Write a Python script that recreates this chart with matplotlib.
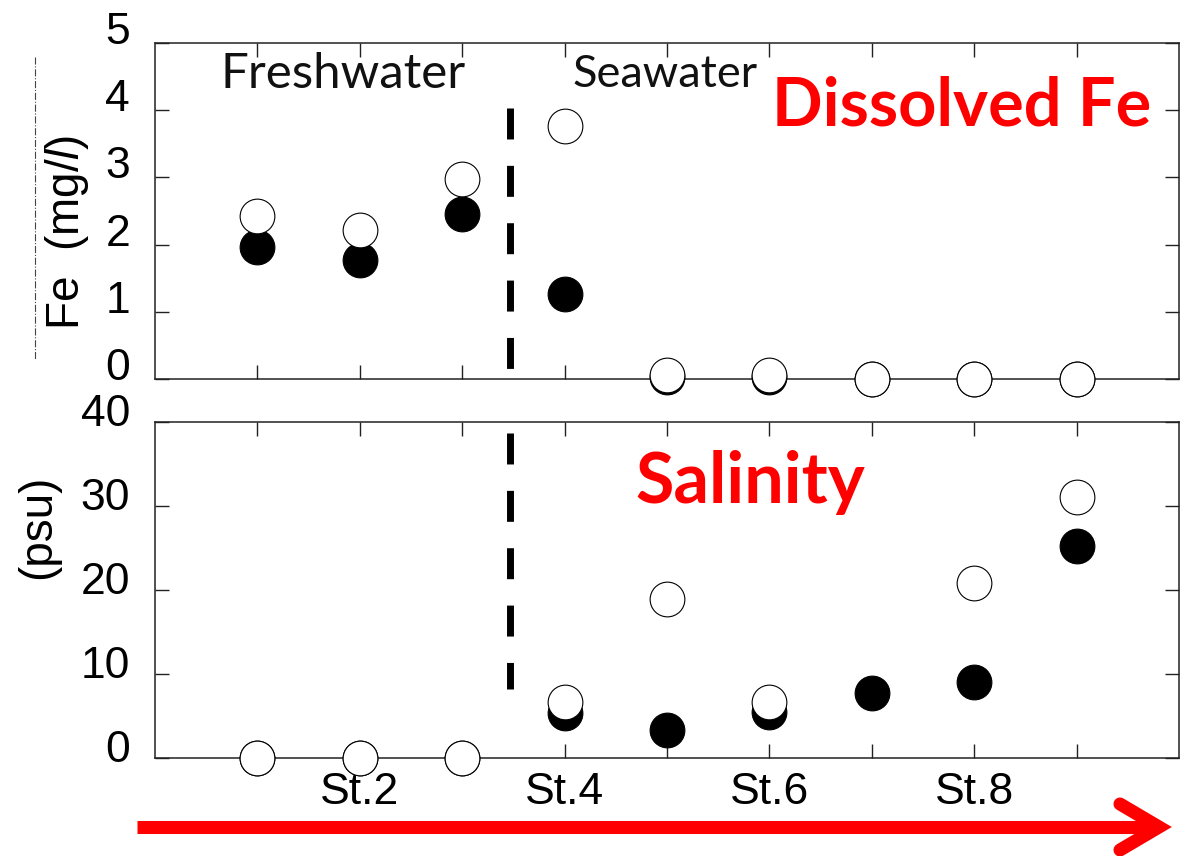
import numpy as np
import matplotlib.pyplot as plt
from matplotlib.lines import Line2D
from matplotlib.transforms import ScaledTranslation

plt.rcParams['font.family'] = ['Liberation Sans', 'DejaVu Sans']
plt.rcParams['mathtext.fontset'] = 'custom'
plt.rcParams['mathtext.rm'] = 'Liberation Sans'
plt.rcParams['mathtext.it'] = 'Liberation Sans:italic'

# stations along the river -> sea transect
stations = [1, 2, 3, 4, 5, 6, 7, 8, 9]
xtick_labels = ['', 'St.2', '', 'St.4', '', 'St.6', '', 'St.8', '']

# dissolved Fe (mg/l): open and filled symbols
fe_open = [2.43, 2.22, 2.97, 3.76, 0.06, 0.06, 0.0, 0.0, 0.0]
fe_filled = [1.97, 1.77, 2.45, 1.26, 0.03, 0.03, 0.0, 0.0, 0.0]

# salinity (psu)
sal_open = [0, 0, 0, 6.7, 18.9, 6.7, np.nan, 20.8, 31.1]
sal_filled = [0, 0, 0, 5.4, 3.3, 5.5, 7.7, 9.1, 25.2]

W, H = 1182, 856
fig = plt.figure(figsize=(W / 100, H / 100), dpi=100)


def fx(px):
    return px / W


def fy(py):
    return 1 - py / H


ax1 = fig.add_axes([fx(155), fy(379), fx(1179) - fx(155), fy(43) - fy(379)])
ax2 = fig.add_axes([fx(155), fy(758), fx(1179) - fx(155), fy(422) - fy(758)])

for ax, op, fi in [(ax1, fe_open, fe_filled), (ax2, sal_open, sal_filled)]:
    ax.plot(stations, fi, 'o', ms=25, mfc='black', mec='black', mew=0.8,
            zorder=3, clip_on=False)
    ax.plot(stations, op, 'o', ms=25, mfc='white', mec='black', mew=0.8,
            zorder=4, clip_on=False)
    ax.set_xlim(0, 10)
    ax.set_xticks(stations)
    for s in ax.spines.values():
        s.set_linewidth(1.1)
        s.set_color('#222222')
    ax.tick_params(direction='in', length=10, width=1, top=True, right=True,
                   labelsize=32, color='#222222')
    ax.tick_params(axis='x', pad=10)
    ax.tick_params(axis='y', pad=18)

ax1.set_ylim(0, 5)
ax1.set_yticks([0, 1, 2, 3, 4, 5])
ax1.set_xticklabels([])
ax2.set_ylim(0, 40)
ax2.set_yticks([0, 10, 20, 30, 40])
ax2.set_xticklabels(xtick_labels)

# y tick labels sit a bit above their ticks in the original
for ax, dy in [(ax1, 15), (ax2, 12)]:
    for lab in ax.get_yticklabels():
        lab.set_transform(lab.get_transform() +
                          ScaledTranslation(0, dy / 100, fig.dpi_scale_trans))

ax1.set_ylabel('Fe  (mg/$\\mathit{l}$)', fontsize=33)
ax1.yaxis.label.set_va('center')
ax1.yaxis.set_label_coords((67 - 155) / 1024, (379 - 232) / 336)
ax2.set_ylabel('(psu)', fontsize=33)
ax2.yaxis.label.set_va('center')
ax2.yaxis.set_label_coords((38 - 155) / 1024, (758 - 527) / 336)

# boundary between freshwater and seawater
ax1.plot([3.47, 3.47], [4.03, 0.15], color='black', lw=5, dashes=(4.46, 3.8))
ax2.plot([3.47, 3.47], [38.7, 8.2], color='black', lw=5, dashes=(4.46, 3.8))

fig.text(fx(220), fy(88), 'Freshwater', family='Lato', fontsize=35.5,
         color='#111111', va='baseline')
fig.text(fx(573), fy(87), 'Seawater', family='Lato', fontsize=32.5,
         color='#111111', va='baseline')
fig.text(fx(772), fy(125), 'Dissolved Fe', family='Lato', weight='bold',
         fontsize=48, color='#ff0000', va='baseline')
fig.text(fx(635), fy(503), 'Salinity', family='Lato', weight='bold',
         fontsize=50.5, color='#ff0000', va='baseline')

# thin dash-dot line at far left
fig.add_artist(Line2D([fx(35), fx(35)], [fy(57), fy(360)], ls='-.', lw=0.8,
                      color='#444444'))

# red arrow along the bottom
fig.add_artist(Line2D([fx(137), fx(1159)], [fy(827), fy(827)], lw=9.4,
                      color='#ff0000', solid_capstyle='butt'))
fig.add_artist(Line2D([fx(1120), fx(1159), fx(1120)], [fy(804), fy(827), fy(850)],
                      lw=9.4, color='#ff0000', solid_capstyle='round',
                      solid_joinstyle='miter'))

fig.savefig('out.png', dpi=100)
